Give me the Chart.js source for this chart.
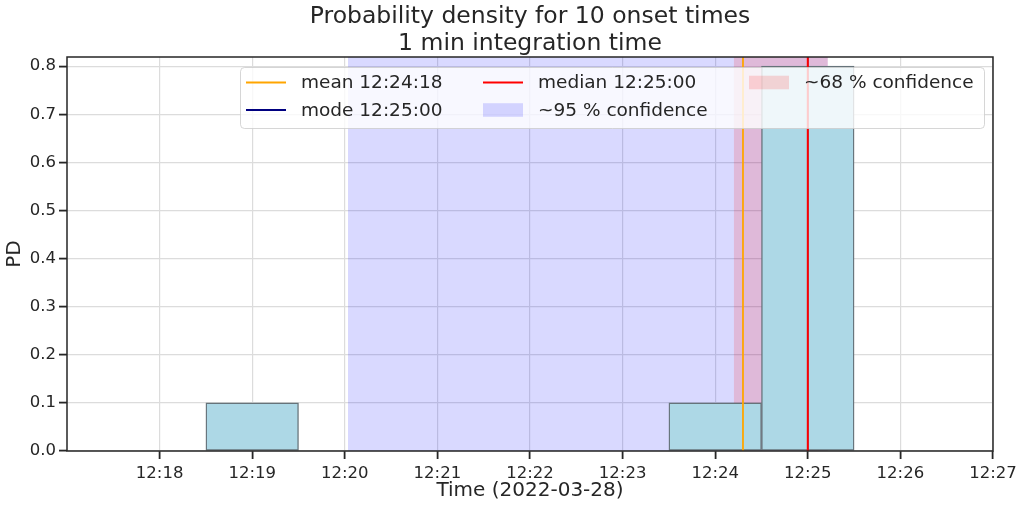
<!DOCTYPE html>
<html><head><meta charset="utf-8">
<script src="https://cdn.jsdelivr.net/npm/chart.js@4.4.1/dist/chart.umd.min.js"></script>
<style>html,body{margin:0;padding:0;background:#fff}</style>
</head><body>
<canvas id="c" width="1024" height="508"></canvas>
<script>
// ---- data ----
const binTimes = ['12:19','12:20','12:21','12:22','12:23','12:24','12:25'];
const density = [0.1, 0, 0, 0, 0, 0.1, 0.8];
const xTickLabels = ['12:18','12:19','12:20','12:21','12:22','12:23','12:24','12:25','12:26','12:27'];
const yTickValues = [0, 0.1, 0.2, 0.3, 0.4, 0.5, 0.6, 0.7, 0.8];
const xRange = ['12:17:00', '12:27:00'];
const yRange = [0, 0.819];
const meanTime = '12:24:18';
const modeTime = '12:25:00';
const medianTime = '12:25:00';
const ci95 = ['12:20:02', '12:25:13'];
const ci68 = ['12:24:12', '12:25:13'];
const titleLines = ['Probability density for 10 onset times', '1 min integration time'];
const xLabel = 'Time (2022-03-28)';
const yLabel = 'PD';

// ---- helpers ----
const FONT = "'DejaVu Sans', sans-serif";
const TXT = '#262626';
function toMin(s) {
  const p = s.split(':').map(Number);
  return (p[0] - 12) * 60 + p[1] + (p[2] || 0) / 60;
}
function fmtMin(v) {
  const m = Math.round(v);
  return '12:' + String(m).padStart(2, '0');
}
const C = {
  mean: '#ffa500', mode: 'navy', median: 'red',
  ci95: 'rgba(0,0,255,0.15)', ci68: 'rgba(255,0,0,0.15)',
  bar: '#add8e6', barEdge: '#66737a'
};
const legendItems = [
  {label: 'mean ' + meanTime, type: 'line', color: C.mean, col: 0, row: 0},
  {label: 'mode ' + modeTime, type: 'line', color: C.mode, col: 0, row: 1},
  {label: 'median ' + medianTime, type: 'line', color: C.median, col: 1, row: 0},
  {label: '~95 % confidence', type: 'patch', color: C.ci95, col: 1, row: 1},
  {label: '~68 % confidence', type: 'patch', color: C.ci68, col: 2, row: 0}
];

function vline(t, color, order, width) {
  return {
    type: 'line', order: order,
    data: [{x: toMin(t), y: yRange[0]}, {x: toMin(t), y: yRange[1]}],
    borderColor: color, borderWidth: width, pointRadius: 0, fill: false
  };
}
function span(r, color, order) {
  return {
    type: 'line', order: order,
    data: [{x: toMin(r[0]), y: yRange[1]}, {x: toMin(r[1]), y: yRange[1]}],
    borderWidth: 0, borderColor: 'rgba(0,0,0,0)', backgroundColor: color,
    pointRadius: 0, fill: 'origin'
  };
}

const framePlugin = {
  id: 'frame',
  afterDatasetsDraw(chart) {
    const {ctx, chartArea: a} = chart;
    ctx.save();
    ctx.strokeStyle = TXT;
    ctx.lineWidth = 1.5;
    ctx.strokeRect(a.left, a.top, a.right - a.left, a.bottom - a.top);
    ctx.restore();
  }
};

const legendPlugin = {
  id: 'mplLegend',
  afterDraw(chart) {
    const {ctx, chartArea: a} = chart;
    const w = 744, h = 61;
    const x0 = a.right - 9 - w, y0 = a.top + 10;
    const colX = [6, 243, 509], rowY = [15.5, 43];
    ctx.save();
    ctx.beginPath();
    if (ctx.roundRect) ctx.roundRect(x0 + 0.5, y0 + 0.5, w, h, 4);
    else ctx.rect(x0 + 0.5, y0 + 0.5, w, h);
    ctx.fillStyle = 'rgba(255,255,255,0.8)';
    ctx.fill();
    ctx.strokeStyle = 'rgba(204,204,204,0.8)';
    ctx.lineWidth = 1;
    ctx.stroke();
    ctx.font = '18.5px ' + FONT;
    ctx.textBaseline = 'middle';
    ctx.fillStyle = TXT;
    legendItems.forEach(it => {
      const hx = x0 + colX[it.col], cy = y0 + rowY[it.row];
      if (it.type === 'line') {
        ctx.strokeStyle = it.color;
        ctx.lineWidth = 1.8;
        ctx.beginPath();
        ctx.moveTo(hx, cy);
        ctx.lineTo(hx + 40, cy);
        ctx.stroke();
      } else {
        ctx.fillStyle = it.color;
        ctx.fillRect(hx, cy - 6.8, 40, 13.6);
      }
      ctx.fillStyle = TXT;
      ctx.fillText(it.label, hx + 55, cy + 1);
    });
    ctx.restore();
  }
};

new Chart(document.getElementById('c'), {
  type: 'bar',
  data: {
    datasets: [
      span(ci95, C.ci95, 10),
      span(ci68, C.ci68, 9),
      {
        type: 'bar', order: 5,
        data: binTimes.map((t, i) => ({x: toMin(t), y: density[i]})),
        backgroundColor: C.bar, borderColor: C.barEdge, borderWidth: 1.4,
        borderSkipped: false, categoryPercentage: 1, barPercentage: 1
      },
      vline(modeTime, C.mode, 3, 1.2),
      vline(meanTime, C.mean, 2, 1.8),
      vline(medianTime, C.median, 1, 2.0)
    ]
  },
  options: {
    responsive: false, animation: false, devicePixelRatio: 1,
    layout: {padding: {left: 0, right: 31, top: 0, bottom: 0}},
    plugins: {
      legend: {display: false},
      tooltip: {enabled: false},
      title: {
        display: true, fullSize: false, text: titleLines, color: TXT,
        font: {family: FONT, size: 23.5, weight: 'normal', lineHeight: 1.149},
        padding: {top: 3, bottom: 0}
      }
    },
    scales: {
      x: {
        type: 'linear', min: toMin(xRange[0]), max: toMin(xRange[1]), offset: false,
        grid: {color: '#dcdcdc', lineWidth: 1.2, tickColor: TXT, tickWidth: 1.8, tickLength: 8, offset: false},
        border: {display: false},
        afterBuildTicks(s) { s.ticks = xTickLabels.map(t => ({value: toMin(t)})); },
        ticks: {color: TXT, font: {family: FONT, size: 16.5}, padding: 5, maxRotation: 0, autoSkip: false,
          callback: v => fmtMin(v)},
        title: {display: true, text: xLabel, color: TXT, font: {family: FONT, size: 20, lineHeight: 1.2}, padding: {top: 0, bottom: 5}},
        afterFit(s) { s.height = 57; }
      },
      y: {
        type: 'linear', min: yRange[0], max: yRange[1],
        grid: {color: '#dcdcdc', lineWidth: 1.2, tickColor: TXT, tickWidth: 1.8, tickLength: 8},
        border: {display: false},
        afterBuildTicks(s) { s.ticks = yTickValues.map(v => ({value: v})); },
        ticks: {color: TXT, font: {family: FONT, size: 16.5}, padding: 3, autoSkip: false,
          callback: v => v.toFixed(1)},
        title: {display: true, text: yLabel, color: TXT, font: {family: FONT, size: 20, lineHeight: 1.2}, padding: {top: 3, bottom: 0}},
        afterFit(s) { s.width = 67; }
      }
    }
  },
  plugins: [framePlugin, legendPlugin]
});
</script>
</body></html>
